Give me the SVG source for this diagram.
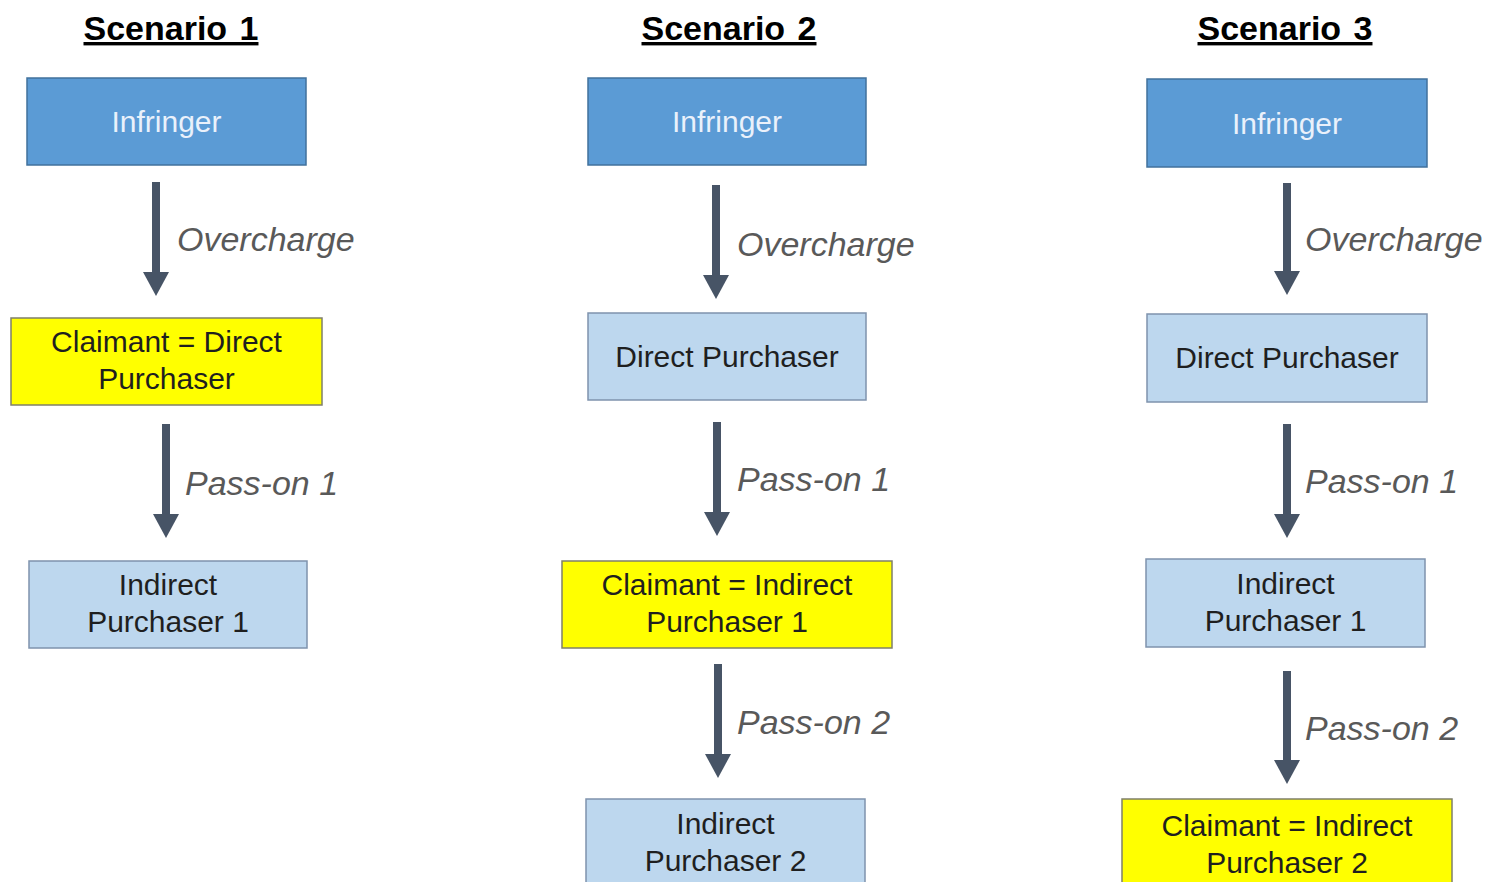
<svg xmlns="http://www.w3.org/2000/svg" width="1488" height="882" viewBox="0 0 1488 882">
<style>
text{font-family:"Liberation Sans",Arial,sans-serif}
.title{font-size:34px;font-weight:bold;fill:#000;text-decoration:underline;text-anchor:middle;word-spacing:3px}
.dark{fill:#5B9BD5;stroke:#41719C;stroke-width:1.5}
.light{fill:#BDD7EE;stroke:#7F93AD;stroke-width:1.5}
.yellow{fill:#FFFF00;stroke:#7F7F6A;stroke-width:1.5}
.nt{font-size:30px;fill:#1F1F1F;text-anchor:middle}
.nw{font-size:30px;fill:#EAF1FB;text-anchor:middle}
.lbl{font-size:34px;font-style:italic;fill:#595959}
.arr{stroke:#475466;stroke-width:8;fill:none;marker-end:url(#ah)}
</style>
<defs>
<marker id="ah" markerUnits="userSpaceOnUse" markerWidth="24" markerHeight="26" viewBox="0 0 24 26" refX="12" refY="13" orient="auto">
<path d="M0,0 L24,13 L0,26 z" fill="#475466"/>
</marker>
</defs>
<rect width="1488" height="882" fill="#FFFFFF"/>
<g id="titles">
<text class="title" x="171" y="40">Scenario 1</text>
<text class="title" x="729" y="40">Scenario 2</text>
<text class="title" x="1285" y="40">Scenario 3</text>
</g>
<g id="connectors">
<path class="arr" d="M156,182 V284"/>
<path class="arr" d="M166,424 V526"/>
<path class="arr" d="M716,185 V287"/>
<path class="arr" d="M717,422 V524"/>
<path class="arr" d="M718,664 V766"/>
<path class="arr" d="M1287,183 V283"/>
<path class="arr" d="M1287,424 V526"/>
<path class="arr" d="M1287,671 V772"/>
<text class="lbl" x="177" y="251">Overcharge</text>
<text class="lbl" x="185" y="495">Pass-on 1</text>
<text class="lbl" x="737" y="256">Overcharge</text>
<text class="lbl" x="737" y="491">Pass-on 1</text>
<text class="lbl" x="737" y="734">Pass-on 2</text>
<text class="lbl" x="1305" y="251">Overcharge</text>
<text class="lbl" x="1305" y="493">Pass-on 1</text>
<text class="lbl" x="1305" y="740">Pass-on 2</text>
</g>
<g id="s1-infringer"><rect class="dark" x="27" y="78" width="279" height="87"/><text class="nw" x="166.5" y="132">Infringer</text></g>
<g id="s1-claimant"><rect class="yellow" x="11" y="318" width="311" height="87"/><text class="nt" x="166.5" y="352">Claimant = Direct</text><text class="nt" x="166.5" y="389">Purchaser</text></g>
<g id="s1-ip1"><rect class="light" x="29" y="561" width="278" height="87"/><text class="nt" x="168" y="595">Indirect</text><text class="nt" x="168" y="632">Purchaser 1</text></g>
<g id="s2-infringer"><rect class="dark" x="588" y="78" width="278" height="87"/><text class="nw" x="727" y="132">Infringer</text></g>
<g id="s2-dp"><rect class="light" x="588" y="313" width="278" height="87"/><text class="nt" x="727" y="367">Direct Purchaser</text></g>
<g id="s2-claimant"><rect class="yellow" x="562" y="561" width="330" height="87"/><text class="nt" x="727" y="595">Claimant = Indirect</text><text class="nt" x="727" y="632">Purchaser 1</text></g>
<g id="s2-ip2"><rect class="light" x="586" y="799" width="279" height="100"/><text class="nt" x="725.5" y="834">Indirect</text><text class="nt" x="725.5" y="871">Purchaser 2</text></g>
<g id="s3-infringer"><rect class="dark" x="1147" y="79" width="280" height="88"/><text class="nw" x="1287" y="134">Infringer</text></g>
<g id="s3-dp"><rect class="light" x="1147" y="314" width="280" height="88"/><text class="nt" x="1287" y="368">Direct Purchaser</text></g>
<g id="s3-ip1"><rect class="light" x="1146" y="559" width="279" height="88"/><text class="nt" x="1285.5" y="594">Indirect</text><text class="nt" x="1285.5" y="631">Purchaser 1</text></g>
<g id="s3-claimant"><rect class="yellow" x="1122" y="799" width="330" height="100"/><text class="nt" x="1287" y="836">Claimant = Indirect</text><text class="nt" x="1287" y="873">Purchaser 2</text></g>
</svg>
